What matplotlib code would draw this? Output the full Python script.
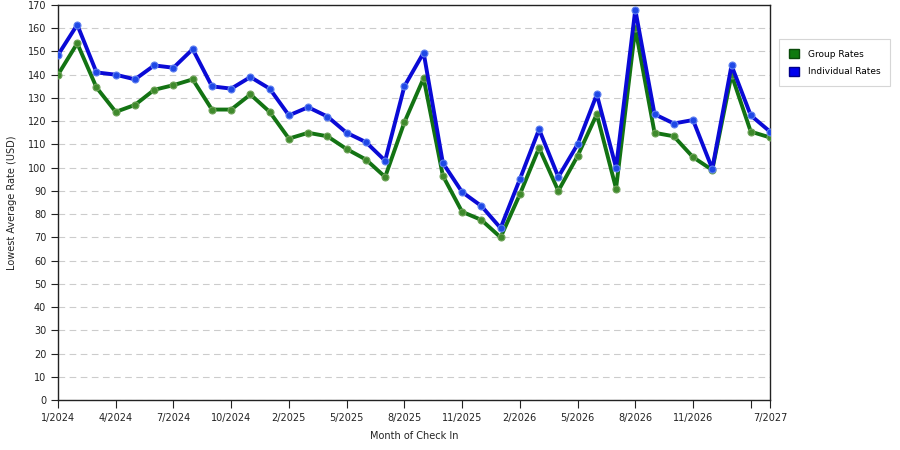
import matplotlib.pyplot as plt
from matplotlib.patches import Patch

# x categories (months with data), only some of them get a label
n_months = 38
tick_pos = [0, 3, 6, 9, 12, 15, 18, 21, 24, 27, 30, 33, 36, 37]
tick_labels = ["1/2024", "4/2024", "7/2024", "10/2024", "2/2025", "5/2025",
               "8/2025", "11/2025", "2/2026", "5/2026", "8/2026", "11/2026",
               "", "7/2027"]

group_rates = [140, 153.5, 134.5, 124, 127, 133.5, 135.5, 138, 125, 125,
               131.5, 124, 112.5, 115, 113.5, 108, 103.5, 96, 119.5, 138.5,
               96.5, 81, 77.5, 70, 88.5, 108.5, 90, 105, 123, 91,
               160, 115, 113.5, 104.5, 99, 140, 115.5, 113]
individual_rates = [148.5, 161.5, 141, 140, 138, 144, 143, 151, 135, 134,
                    139, 134, 122.5, 126, 122, 115, 111, 103, 135, 149.5,
                    102, 89.5, 83.5, 74, 95, 116.5, 96, 110, 131.5, 100,
                    168, 123, 119, 120.5, 99.5, 144, 122.5, 115.5]

x = list(range(n_months))

fig = plt.figure(figsize=(9, 4.5), dpi=100)
ax = fig.add_axes([58 / 900, 50 / 450, 712 / 900, 395 / 450])

ax.plot(x, group_rates, color="#137313", lw=2.8, marker="o", ms=5,
        mfc="#3f8a2c", mec="#6fa35a", mew=0.8, zorder=3)
ax.plot(x, individual_rates, color="#0a0ad6", lw=2.8, marker="o", ms=5,
        mfc="#1f48e6", mec="#5f80f0", mew=0.8, zorder=4)

ax.set_xlim(0, n_months - 1)
ax.set_ylim(0, 170)
ax.set_yticks(range(0, 171, 10))
ax.set_xticks(tick_pos)
ax.set_xticklabels(tick_labels)
ax.tick_params(axis="both", labelsize=7, direction="out", length=5,
               color="#222222", labelcolor="#222222")
ax.tick_params(axis="x", length=6, pad=3)

ax.grid(axis="y", ls=(0, (6, 4)), color="#cccccc", lw=0.8)
ax.set_axisbelow(True)
for s in ax.spines.values():
    s.set_color("#222222")
    s.set_linewidth(1.0)

ax.set_xlabel("Month of Check In", fontsize=7, color="#222222", labelpad=6)
ax.set_ylabel("Lowest Average Rate (USD)", fontsize=7, color="#222222", labelpad=8)

handles = [Patch(facecolor="#0f7a0f", edgecolor="#0a4a0a", label="Group Rates"),
           Patch(facecolor="#0000ee", edgecolor="#00008a", label="Individual Rates")]
leg = fig.legend(handles=handles, loc="upper left", bbox_to_anchor=(779 / 900, 1 - 39 / 450),
                 fontsize=6.5, frameon=True, fancybox=False, handlelength=1.1,
                 handleheight=1.2, handletextpad=1.0, labelspacing=0.9,
                 borderpad=1.1, borderaxespad=0)
leg.get_frame().set_edgecolor("#cccccc")
leg.get_frame().set_linewidth(0.8)

fig.savefig("out.png", dpi=100)
